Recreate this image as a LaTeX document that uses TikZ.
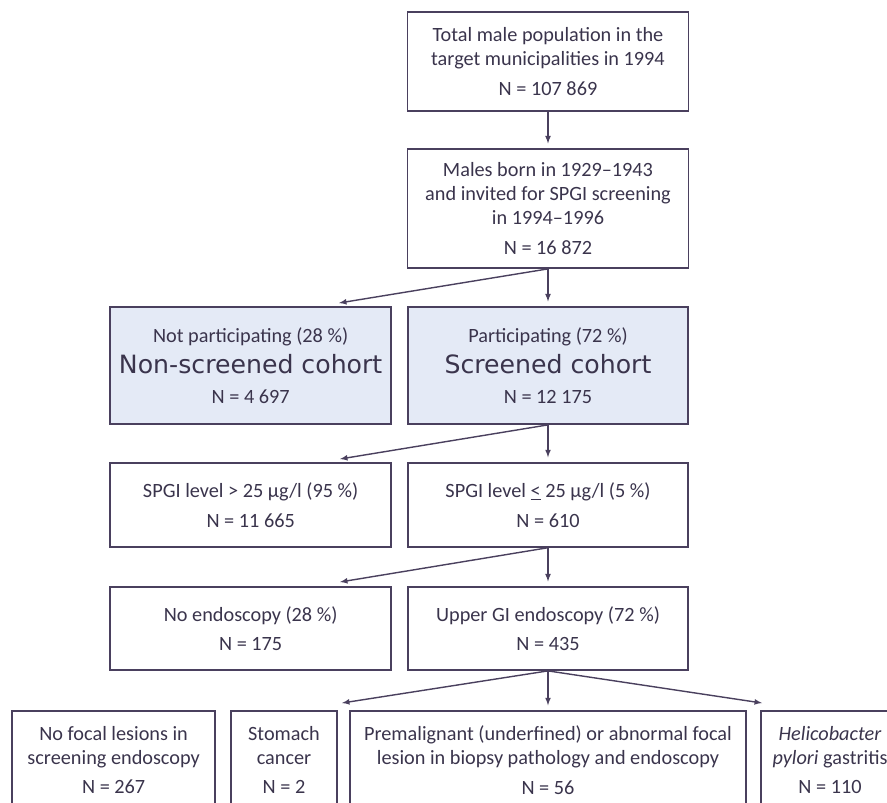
\documentclass[tikz,border=0pt]{standalone}
\usepackage{fontspec}
\setmainfont{Carlito}
\newfontfamily\bigfont{DejaVu Sans}
\usetikzlibrary{shapes,calc}

\definecolor{edgecol}{HTML}{4A405E}
\definecolor{txtcol}{HTML}{3A344C}
\definecolor{cohortfill}{HTML}{E4EAF6}

\begin{document}
\begin{tikzpicture}
	[->,>=latex,line width=1.2pt,draw=edgecol,
	flowbox/.style={shape=rectangle,draw=edgecol,line width=1.2pt,align=center,
		text=txtcol,inner sep=2pt,font=\fontsize{17.3}{20.5}\selectfont},
	cohortbox/.style={flowbox,fill=cohortfill}]
		\useasboundingbox (0,0) rectangle (26.61,-24.06);
		\clip (0,0) rectangle (26.61,-24.06);

		% first two levels
		\node[flowbox,minimum width=8.43cm,minimum height=2.97cm] (total) at (16.44,-1.85)
			{Total male population in the\\target municipalities in 1994\\[5pt]N = 107 869};
		\node[flowbox,minimum width=8.43cm,minimum height=3.57cm] (invited) at (16.44,-6.26)
			{Males born in 1929–1943\\and invited for SPGI screening\\in 1994–1996\\[5pt]N = 16 872};

		% cohorts
		\node[cohortbox,minimum width=8.43cm,minimum height=3.51cm] (nonscr) at (7.52,-10.97)
			{Not participating (28 \%)\\[6pt]{\fontsize{21.5}{24}\bigfont Non-screened cohort}\\[5pt]N = 4 697};
		\node[cohortbox,minimum width=8.4cm,minimum height=3.51cm] (scr) at (16.44,-10.97)
			{Participating (72 \%)\\[6pt]{\fontsize{21.5}{24}\bigfont Screened cohort}\\[5pt]N = 12 175};

		% SPGI levels
		\node[flowbox,minimum width=8.43cm,minimum height=2.52cm] (high) at (7.52,-15.15)
			{SPGI level > 25 µg/l (95 \%)\\[5pt]N = 11 665};
		\node[flowbox,minimum width=8.4cm,minimum height=2.52cm] (low) at (16.44,-15.15)
			{SPGI level \underline{<} 25 µg/l (5 \%)\\[5pt]N = 610};

		% endoscopy
		\node[flowbox,minimum width=8.43cm,minimum height=2.49cm] (noendo) at (7.52,-18.86)
			{No endoscopy (28 \%)\\[5pt]N = 175};
		\node[flowbox,minimum width=8.4cm,minimum height=2.49cm] (endo) at (16.44,-18.86)
			{Upper GI endoscopy (72 \%)\\[5pt]N = 435};

		% findings
		\node[flowbox,minimum width=6.09cm,minimum height=2.94cm] (nofocal) at (3.41,-22.8)
			{No focal lesions in\\screening endoscopy\\[5pt]N = 267};
		\node[flowbox,minimum width=3.18cm,minimum height=2.94cm] (cancer) at (8.52,-22.8)
			{Stomach\\cancer\\[5pt]N = 2};
		\node[flowbox,minimum width=11.88cm,minimum height=2.94cm] (premal) at (16.44,-22.8)
			{Premalignant (underfined) or abnormal focal\\lesion in biopsy pathology and endoscopy\\[5pt]N = 56};
		\node[flowbox,minimum width=4.14cm,minimum height=2.94cm] (hpylori) at (24.9,-22.8)
			{\textit{Helicobacter}\\\textit{pylori} gastritis\\[5pt]N = 110};

		% free ends of the side arrows
		\coordinate (tipA) at (10.17,-9.09);
		\coordinate (tipB) at (10.2,-13.77);
		\coordinate (tipC) at (10.2,-17.46);
		\coordinate (tipD) at (10.26,-21.09);
		\coordinate (tipE) at (22.86,-21.09);

		\path
		\foreach \startNode/\endNode in {total/invited, invited/scr, scr/low, low/endo, endo/premal}
		{
			(\startNode) edge[shorten >=0.15cm] (\endNode)
		};
		\path
		\foreach \startNode/\endNode in {invited/tipA, scr/tipB, low/tipC, endo/tipD, endo/tipE}
		{
			(\startNode.south) edge (\endNode)
		};
	\end{tikzpicture}
\end{document}
